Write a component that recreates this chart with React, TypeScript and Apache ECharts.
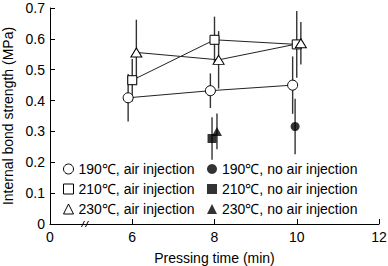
import React, { useEffect, useRef } from "react";
import * as echarts from "echarts";

// ---- data ----
const pressingTimes = [6, 8, 10];
const air190 = [0.409, 0.432, 0.45];
const air190Err = [0.077, 0.056, 0.093];
const air210 = [0.466, 0.597, 0.582];
const air210Err = [0.069, 0.075, 0.108];
const air230 = [0.556, 0.532, 0.586];
const air230Err = [0.106, 0.093, 0.069];

const noAir190Times = [10];
const noAir190 = [0.316];
const noAir190Err = [0.09];
const noAir210Times = [8];
const noAir210 = [0.277];
const noAir210Err = [0.069];
const noAir230Times = [8];
const noAir230 = [0.3];
const noAir230Err = [0.058];

const xTickLabels: Record<number, string> = { 4: "0", 6: "6", 8: "8", 10: "10", 12: "12" };
const yTickLabels: Record<string, string> = {
  "0.0": "0", "0.1": "0.1", "0.2": "0.2", "0.3": "0.3", "0.4": "0.4", "0.5": "0.5", "0.6": "0.6", "0.7": "0.7",
};

const names = {
  a190: "190℃, air injection",
  a210: "210℃, air injection",
  a230: "230℃, air injection",
  n190: "190℃, no air injection",
  n210: "210℃, no air injection",
  n230: "230℃, no air injection",
};

const FONT = "'Liberation Sans', Arial, sans-serif";

function pts(times: number[], vals: number[], dx: number) {
  return times.map((t, i) => [t + dx, vals[i]]);
}
function errs(times: number[], vals: number[], e: number[], dx: number) {
  return times.map((t, i) => [t + dx, vals[i], e[i]]);
}

export default function App() {
  const ref = useRef<HTMLDivElement>(null);
  useEffect(() => {
    document.body.style.margin = "0";
    const chart = echarts.init(ref.current!, null, { renderer: "svg" });

    const errData = [
      ...errs(pressingTimes, air190, air190Err, -0.1),
      ...errs(pressingTimes, air210, air210Err, 0),
      ...errs(pressingTimes, air230, air230Err, 0.1),
      ...errs(noAir190Times, noAir190, noAir190Err, -0.04),
      ...errs(noAir210Times, noAir210, noAir210Err, -0.06),
      ...errs(noAir230Times, noAir230, noAir230Err, 0.06),
    ];

    const openStyle = { color: "#fff", borderColor: "#000", borderWidth: 1 };
    const lineStyle = { color: "#222", width: 1 };

    chart.setOption({
      animation: false,
      textStyle: { fontFamily: FONT },
      grid: { left: 50, right: 9, top: 8, bottom: 42, containLabel: false, outerBoundsMode: "none" },
      xAxis: {
        type: "value",
        min: 4,
        max: 12,
        interval: 2,
        name: "Pressing time (min)",
        nameLocation: "middle",
        nameGap: 27,
        nameTextStyle: { fontSize: 14, color: "#000", fontFamily: FONT },
        axisLine: { lineStyle: { color: "#000", width: 1 } },
        axisTick: { inside: true, length: 5, lineStyle: { color: "#000" } },
        axisLabel: {
          fontSize: 14,
          color: "#000",
          margin: 6,
          fontFamily: FONT,
          formatter: (v: number) => xTickLabels[v] ?? String(v),
        },
        splitLine: { show: false },
      },
      yAxis: {
        type: "value",
        min: 0,
        max: 0.7,
        interval: 0.1,
        name: "Internal bond strength (MPa)",
        nameLocation: "middle",
        nameGap: 31,
        nameTextStyle: { fontSize: 14, color: "#000", fontFamily: FONT },
        axisLine: { show: true, lineStyle: { color: "#000", width: 1 } },
        axisTick: { show: true, inside: true, length: 5, lineStyle: { color: "#000" } },
        axisLabel: {
          fontSize: 14,
          color: "#000",
          margin: 5,
          fontFamily: FONT,
          formatter: (v: number) => yTickLabels[v.toFixed(1)] ?? String(v),
        },
        splitLine: { show: false },
      },
      legend: [
        {
          orient: "vertical",
          left: 58,
          top: 157,
          itemWidth: 10,
          itemHeight: 10,
          itemGap: 6,
          textStyle: { fontSize: 14, color: "#000", fontFamily: FONT },
          data: [
            { name: names.a190, icon: "circle", itemStyle: openStyle },
            { name: names.a210, icon: "rect", itemStyle: openStyle },
            { name: names.a230, icon: "triangle", itemStyle: openStyle },
          ],
        },
        {
          orient: "vertical",
          left: 202,
          top: 157,
          itemWidth: 10,
          itemHeight: 10,
          itemGap: 6,
          textStyle: { fontSize: 14, color: "#000", fontFamily: FONT },
          data: [
            { name: names.n190, icon: "circle" },
            { name: names.n210, icon: "rect" },
            { name: names.n230, icon: "triangle" },
          ],
        },
      ],
      series: [
        {
          type: "custom",
          name: "errors",
          z: 1,
          silent: true,
          encode: { x: 0, y: 1 },
          data: errData,
          renderItem: (params: any, api: any) => {
            const x = api.value(0);
            const y = api.value(1);
            const e = api.value(2);
            const p1 = api.coord([x, y + e]);
            const p2 = api.coord([x, y - e]);
            return {
              type: "line",
              shape: { x1: p1[0], y1: p1[1], x2: p2[0], y2: p2[1] },
              style: { stroke: "#333", lineWidth: 1.4 },
            };
          },
        },
        {
          type: "line",
          name: names.a190,
          z: 3,
          data: pts(pressingTimes, air190, -0.1),
          symbol: "circle",
          symbolSize: 10,
          itemStyle: openStyle,
          lineStyle,
        },
        {
          type: "line",
          name: names.a210,
          z: 3,
          data: pts(pressingTimes, air210, 0),
          symbol: "rect",
          symbolSize: 9,
          itemStyle: openStyle,
          lineStyle,
        },
        {
          type: "line",
          name: names.a230,
          z: 3,
          data: pts(pressingTimes, air230, 0.1),
          symbol: "triangle",
          symbolSize: [11, 9],
          itemStyle: openStyle,
          lineStyle,
        },
        {
          type: "scatter",
          name: names.n190,
          z: 4,
          data: pts(noAir190Times, noAir190, -0.04),
          symbol: "circle",
          symbolSize: 9,
          itemStyle: { color: "#000" },
        },
        {
          type: "scatter",
          name: names.n210,
          z: 4,
          data: pts(noAir210Times, noAir210, -0.06),
          symbol: "rect",
          symbolSize: 9,
          itemStyle: { color: "#000" },
        },
        {
          type: "scatter",
          name: names.n230,
          z: 4,
          data: pts(noAir230Times, noAir230, 0.06),
          symbol: "triangle",
          symbolSize: [10, 9],
          itemStyle: { color: "#000" },
        },
      ],
    });

    // axis break mark
    const bx = chart.convertToPixel({ xAxisIndex: 0 }, 4.85) as number;
    const by = chart.convertToPixel({ yAxisIndex: 0 }, 0) as number;
    chart.setOption({
      graphic: [
        {
          type: "group",
          x: bx,
          y: by,
          children: [
            { type: "rect", shape: { x: -2, y: -1.5, width: 4, height: 3 }, style: { fill: "#fff" } },
            { type: "line", shape: { x1: -3.5, y1: 3, x2: -0.5, y2: -3 }, style: { stroke: "#000", lineWidth: 1 } },
            { type: "line", shape: { x1: 0.5, y1: 3, x2: 3.5, y2: -3 }, style: { stroke: "#000", lineWidth: 1 } },
          ],
        },
      ],
    });

    return () => chart.dispose();
  }, []);
  return <div ref={ref} style={{ width: 388, height: 266 }} />;
}
